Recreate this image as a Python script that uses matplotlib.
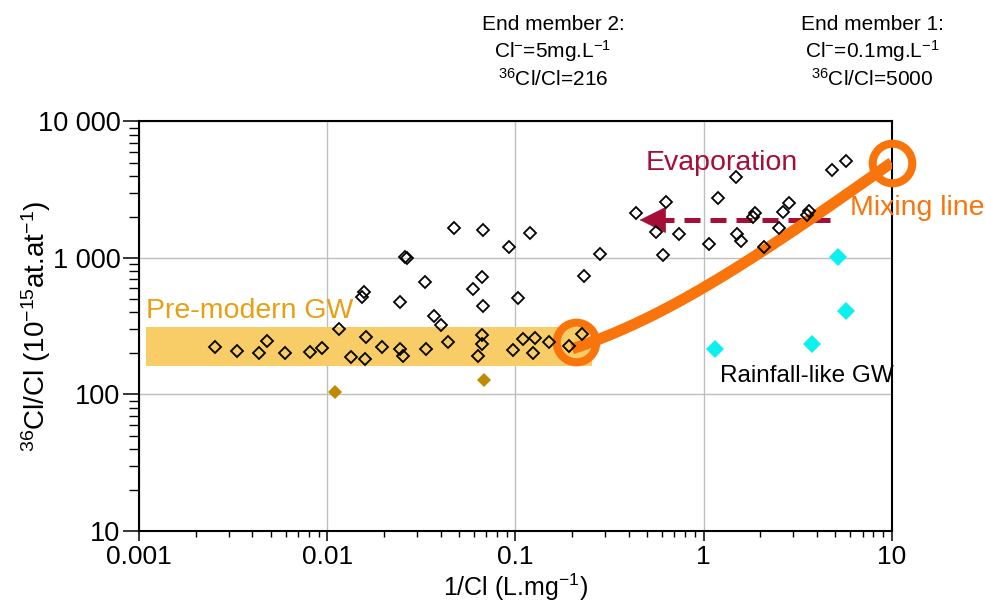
import numpy as np
import matplotlib
matplotlib.use('Agg')
import matplotlib.pyplot as plt
from matplotlib.ticker import LogLocator, FuncFormatter, NullFormatter
from matplotlib.patches import Rectangle

plt.rcParams['font.family'] = ['Liberation Sans', 'DejaVu Sans']
plt.rcParams['mathtext.fontset'] = 'custom'
plt.rcParams['mathtext.rm'] = 'Liberation Sans'
plt.rcParams['mathtext.it'] = 'Liberation Sans:italic'
plt.rcParams['mathtext.bf'] = 'Liberation Sans:bold'

# groundwater samples (open diamonds): 1/Cl (L/mg), 36Cl/Cl (1e-15 at/at)
gw_x = [0.00253, 0.00330, 0.00434, 0.00476, 0.00596, 0.00809, 0.00933, 0.01159,
        0.01337, 0.0160, 0.01585, 0.0196, 0.0242, 0.0252, 0.0335, 0.0440,
        0.0662, 0.0662, 0.0635, 0.0968, 0.110, 0.127, 0.1236, 0.151, 0.1936, 0.225,
        0.01524, 0.01574, 0.0244, 0.0259, 0.0266, 0.0330, 0.0367, 0.0401,
        0.0473, 0.0675, 0.0662, 0.0593, 0.0670, 0.0925, 0.1197, 0.1035, 0.232, 0.282,
        0.437, 0.630, 0.558, 0.743, 0.607, 1.190, 1.074, 1.483, 1.513, 1.577,
        1.841, 1.879, 2.099, 2.518, 2.636, 2.858, 3.538, 3.638, 4.81, 5.73]
gw_y = [222, 209, 200, 248, 200, 204, 220, 302,
        187, 262, 182, 222, 215, 192, 215, 241,
        273, 233, 192, 212, 254, 261, 202, 241, 228, 276,
        515, 563, 474, 1022, 1005, 670, 376, 323,
        1650, 1603, 729, 593, 445, 1197, 1517, 507, 738, 1064,
        2147, 2585, 1559, 1492, 1052, 2737, 1259, 3941, 1492, 1332,
        2008, 2147, 1210, 1650, 2183, 2516, 2065, 2210, 4413, 5136]

# rainfall-like groundwater (cyan)
rain_x = [5.17, 5.73, 3.76, 1.151]
rain_y = [1012, 409, 234, 215]

# low-ratio samples (gold)
old_x = [0.0110, 0.0681]
old_y = [105, 128]

# end members: Cl (mg/L) and 36Cl/Cl
end_cl = [0.1, 5.0]
end_ratio = [5000, 216]
circle_x = [10.0, 0.21]
circle_y = [5000, 244]

# pre-modern GW band
band_x = [0.00109, 0.255]
band_y = [163, 312]

# evaporation arrow (tail, tip)
evap_x = [4.72, 0.442]
evap_y = [1898, 1898]

orange = '#FA740C'
red = '#A50F37'

fig = plt.figure(figsize=(9.85, 6.01), dpi=100)
ax = fig.add_axes([0.1413, 0.1165, 0.7640, 0.6814])
ax.set_xscale('log')
ax.set_yscale('log')
ax.set_xlim(0.001, 10)
ax.set_ylim(10, 10000)

ax.grid(True, which='major', color='#BEBEBE', lw=1.0, zorder=0)
ax.set_axisbelow(True)

ax.add_patch(Rectangle((band_x[0], band_y[0]), band_x[1] - band_x[0],
                       band_y[1] - band_y[0], facecolor='#F8CC66',
                       edgecolor='none', zorder=1))

# evaporation: dashed shaft + solid head
ax.plot([evap_x[0], evap_x[1] * 1.18], evap_y, color=red, lw=3.6,
        linestyle=(0, (3.2, 2.0)), solid_capstyle='butt', zorder=2)
ax.annotate('', xy=(evap_x[1], evap_y[1]), xytext=(evap_x[1] * 1.25, evap_y[1]),
            arrowprops=dict(arrowstyle='-|>,head_length=0.9,head_width=0.45',
                            color=red, lw=0.5, mutation_scale=20), zorder=2)

# binary mixing line between the two end members
inv_cl = np.geomspace(1 / end_cl[1], 1 / end_cl[0], 200)
frac = (1 / inv_cl - end_cl[1]) / (end_cl[0] - end_cl[1])
mix = (frac * end_cl[0] * end_ratio[0] + (1 - frac) * end_cl[1] * end_ratio[1]) * inv_cl
ax.plot(inv_cl, mix, color=orange, lw=8, solid_capstyle='butt', zorder=3)
ax.plot(circle_x, circle_y, 'o', ms=28.5, mfc='none', mec=orange, mew=5.8,
        zorder=3, clip_on=False)

ax.plot(gw_x, gw_y, 'D', ms=6.4, mfc='none', mec='black', mew=1.3, zorder=4)
ax.plot(rain_x, rain_y, 'D', ms=9.0, color='#0DF0F0', mew=0, zorder=4)
ax.plot(old_x, old_y, 'D', ms=7.2, color='#C08A00', mew=0, zorder=4)

ax.text(band_x[0], 363, 'Pre-modern GW', color='#E8A012', fontsize=20.5,
        ha='left', va='baseline', zorder=5)
ax.text(0.489, 4415, 'Evaporation', color=red, fontsize=20.5,
        ha='left', va='baseline', zorder=5)
ax.text(6.01, 2065, 'Mixing line', color=orange, fontsize=20.5,
        ha='left', va='baseline', zorder=5)
ax.text(1.224, 123.5, 'Rainfall-like GW', color='black', fontsize=17.5,
        ha='left', va='baseline', zorder=5)

fig.text(0.5614, 1 - 29.5 / 601, 'End member 2:', fontsize=15, ha='center', va='baseline')
fig.text(0.5614, 1 - 57.5 / 601, r'Cl$^{-}$=5mg.L$^{-1}$', fontsize=15, ha='center', va='baseline')
fig.text(0.5614, 1 - 85.5 / 601, r'$^{36}$Cl/Cl=216', fontsize=15, ha='center', va='baseline')
fig.text(0.8853, 1 - 29.5 / 601, 'End member 1:', fontsize=15, ha='center', va='baseline')
fig.text(0.8853, 1 - 57.5 / 601, r'Cl$^{-}$=0.1mg.L$^{-1}$', fontsize=15, ha='center', va='baseline')
fig.text(0.8853, 1 - 85.5 / 601, r'$^{36}$Cl/Cl=5000', fontsize=15, ha='center', va='baseline')

ax.xaxis.set_major_locator(LogLocator(base=10, numticks=10))
ax.xaxis.set_minor_locator(LogLocator(base=10, subs=np.arange(2, 10), numticks=20))
ax.yaxis.set_major_locator(LogLocator(base=10, numticks=10))
ax.yaxis.set_minor_locator(LogLocator(base=10, subs=np.arange(2, 10), numticks=20))
ax.xaxis.set_major_formatter(FuncFormatter(lambda v, _: f'{v:g}'))
ax.yaxis.set_major_formatter(FuncFormatter(lambda v, _: f'{int(round(v)):,}'.replace(',', ' ')))
ax.xaxis.set_minor_formatter(NullFormatter())
ax.yaxis.set_minor_formatter(NullFormatter())

ax.tick_params(axis='y', which='major', labelsize=19.5, width=1.1, direction='out',
               length=11.5, pad=2)
ax.tick_params(axis='x', which='major', labelsize=19, width=1.1, direction='out',
               length=7.5, pad=2.5)
ax.tick_params(axis='x', which='minor', length=4, width=1.0)
ax.tick_params(axis='y', which='minor', length=7, width=1.0)
for s in ax.spines.values():
    s.set_linewidth(1.5)

ax.set_xlabel(r'1/Cl (L.mg$^{-1}$)', fontsize=18, va='baseline')
ax.set_ylabel(r'$^{36}$Cl/Cl (10$^{-15}$at.at$^{-1}$)', fontsize=20)
ax.xaxis.set_label_coords(0.5, -0.1585)
ax.yaxis.set_label_coords(-0.115, 0.5)

fig.savefig('out.png', dpi=100)
